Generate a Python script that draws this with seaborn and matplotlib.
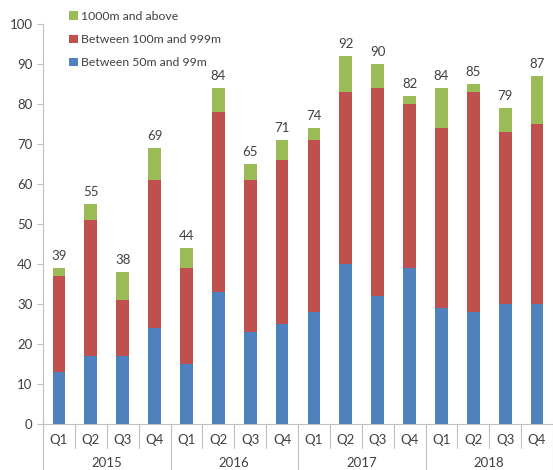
import matplotlib
matplotlib.use("Agg")
import matplotlib.pyplot as plt
import matplotlib.transforms as mtransforms
from matplotlib.patches import Patch
import seaborn as sns
import pandas as pd

years = ["2015", "2016", "2017", "2018"]
quarters = ["Q1", "Q2", "Q3", "Q4"]
small = [13, 17, 17, 24, 15, 33, 23, 25, 28, 40, 32, 39, 29, 28, 30, 30]
mid = [24, 34, 14, 37, 24, 45, 38, 41, 43, 43, 52, 41, 45, 55, 43, 45]
large = [2, 4, 7, 8, 5, 6, 4, 5, 3, 9, 6, 2, 10, 2, 6, 12]
series_names = ["1000m and above", "Between 100m and 999m", "Between 50m and 99m"]

c_green = "#9BBB59"
c_red = "#C0504D"
c_blue = "#4F81BD"
txt = "#404040"

sns.set_theme(style="white")
plt.rcParams["font.family"] = ["Lato", "DejaVu Sans"]

cats = [f"{y} {q}" for y in years for q in quarters]
cum_mid = [a + b for a, b in zip(small, mid)]
totals = [a + b for a, b in zip(cum_mid, large)]
df = pd.DataFrame({"cat": cats, "small": small, "cum_mid": cum_mid, "total": totals})

fig = plt.figure(figsize=(5.53, 4.70), dpi=100)
ax = fig.add_axes([43 / 553, 46 / 470, 510 / 553, 400 / 470])

for col, colr in [("total", c_green), ("cum_mid", c_red), ("small", c_blue)]:
    sns.barplot(data=df, x="cat", y=col, order=cats, color=colr, width=0.4,
                saturation=1, ax=ax, linewidth=0)

for i, t in enumerate(totals):
    ax.text(i, t + 1.6, str(t), ha="center", va="bottom", fontsize=9.5, color=txt)

ax.set_xlim(-0.5, len(cats) - 0.5)
ax.set_ylim(0, 100)
ax.set_yticks(range(0, 101, 10))
ax.tick_params(axis="y", labelsize=9.5, colors=txt, length=4, width=0.8, color="#BFBFBF", left=True)
ax.set_xticks([])
ax.set_xlabel("")
ax.set_ylabel("")
for s in ["top", "right"]:
    ax.spines[s].set_visible(False)
for s in ["left", "bottom"]:
    ax.spines[s].set_color("#BFBFBF")
    ax.spines[s].set_linewidth(0.8)

tr = mtransforms.blended_transform_factory(ax.transData, ax.transAxes)
for i in range(len(cats)):
    ax.text(i, -0.04, quarters[i % 4], ha="center", va="center", fontsize=9.5,
            color=txt, transform=tr)
for k, y in enumerate(years):
    ax.text(4 * k + 1.5, -0.0975, y, ha="center", va="center", fontsize=9.5,
            color=txt, transform=tr)
for b in range(len(cats) + 1):
    xpos = b - 0.5
    y1 = -0.115 if b % 4 == 0 else -0.06
    ax.plot([xpos, xpos], [0, y1], color="#BFBFBF", lw=0.8, transform=tr, clip_on=False)

handles = [Patch(facecolor=c, edgecolor="none") for c in [c_green, c_red, c_blue]]
fig.legend(handles, series_names, loc="upper left", bbox_to_anchor=(58 / 553, 1 - 0 / 470),
           frameon=False, fontsize=8.8, handlelength=0.7, handleheight=0.7,
           handletextpad=0.3, labelspacing=1.0, labelcolor=txt)

fig.savefig("out.png", dpi=100)
